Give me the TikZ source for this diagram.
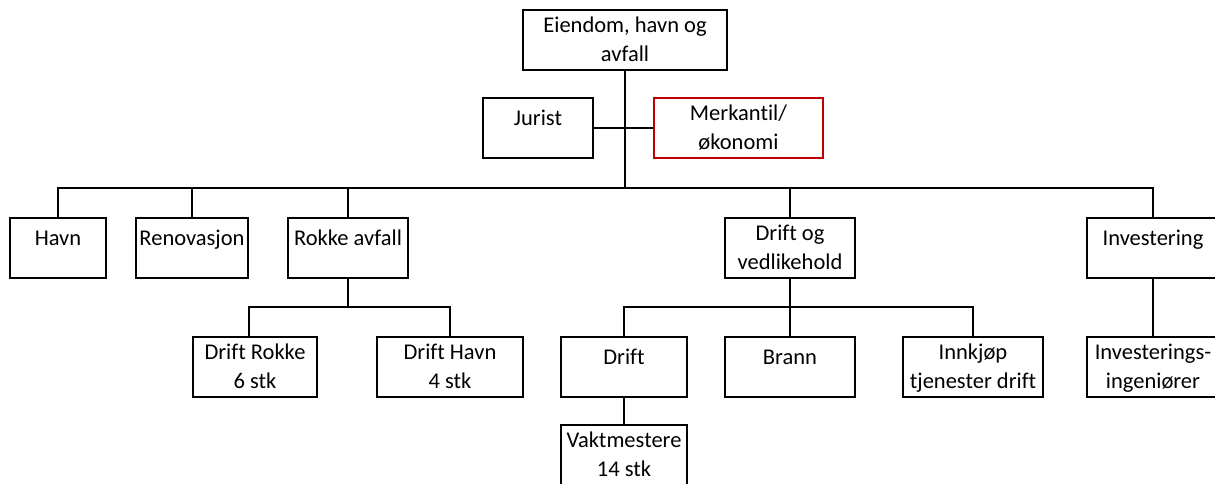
\documentclass[tikz,border=0pt]{standalone}
\usepackage{fontspec}
\setmainfont{Carlito}[Ligatures={NoCommon}]
\definecolor{boxred}{HTML}{C00000}
\tikzset{
  box/.style={draw, line width=2pt, rectangle, inner sep=0pt, minimum height=60pt},
  lbl/.style={anchor=north, align=center, inner sep=0pt, yshift=-7.5pt, text=black,
    font=\fontsize{22.5}{29.5}\selectfont, execute at begin node=\strut},
  conn/.style={line width=2pt},
}
\newcommand{\boxnode}[6][black]{%
  \node[box, draw=#1, minimum width=#5pt, label={[lbl]north:{#6}}] (#2) at (#3,#4) {};}
\begin{document}
\begin{tikzpicture}[x=1pt,y=-1pt]
\clip (0,0) rectangle (1215,483);
\fill[white] (0,0) rectangle (1215,483);
% boxes
\boxnode{top}{625}{40}{204}{Eiendom, havn og\\avfall}
\boxnode{jur}{538}{128}{110}{Jurist}
\boxnode[boxred]{merk}{738.5}{128}{169}{Merkantil/\\økonomi}
\boxnode{havn}{58}{248}{96}{Havn}
\boxnode{renov}{192}{248}{112}{Renovasjon}
\boxnode{rokke}{348}{248}{120}{Rokke avfall}
\boxnode{dov}{790}{248}{130}{Drift og\\vedlikehold}
\boxnode{inv}{1153}{248}{132}{Investering}
\boxnode{drokke}{255}{367}{124}{Drift Rokke\\6 stk}
\boxnode{dhavn}{450}{367}{146}{Drift Havn\\4 stk}
\boxnode{drift}{624}{367}{126}{Drift}
\boxnode{brann}{790}{367}{130}{Brann}
\boxnode{innk}{973}{367}{140}{Innkjøp\\tjenester drift}
\boxnode{ining}{1153}{367}{132}{Investerings-\\ingeniører}
\boxnode{vakt}{624}{455}{126}{Vaktmestere\\14 stk}
% connectors
\coordinate (bar1) at (625,188);
\coordinate (bar2) at (348,307);
\coordinate (bar3) at (790,307);
\coordinate (drk) at (249,337);
\draw[conn] (top.south) -- (bar1);
\draw[conn] (jur.east) -- (merk.west);
\draw[conn] (havn.north) |- (inv.north |- bar1) -- (inv.north);
\draw[conn] (renov.north) -- (renov.north |- bar1);
\draw[conn] (rokke.north) -- (rokke.north |- bar1);
\draw[conn] (dov.north) -- (dov.north |- bar1);
\draw[conn] (rokke.south) -- (bar2);
\draw[conn] (drk) |- (dhavn.north |- bar2) -- (dhavn.north);
\draw[conn] (dov.south) -- (bar3);
\draw[conn] (drift.north) |- (innk.north |- bar3) -- (innk.north);
\draw[conn] (brann.north) -- (bar3);
\draw[conn] (drift.south) -- (vakt.north);
\draw[conn] (inv.south) -- (ining.north);
\end{tikzpicture}
\end{document}
